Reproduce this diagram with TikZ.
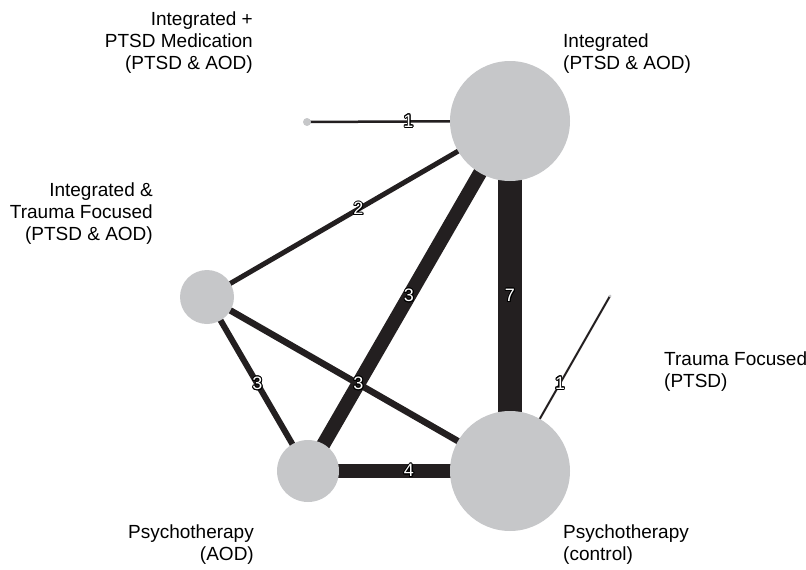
\documentclass[tikz,border=0pt]{standalone}
\usepackage{fontspec}
\setmainfont{Liberation Sans}
\usepackage{contour}
\contourlength{0.9pt}
\definecolor{edgecol}{HTML}{231F20}
\definecolor{nodegrey}{HTML}{C6C7C9}
\pgfdeclarelayer{background}
\pgfsetlayers{background,main}
\begin{document}
\begin{tikzpicture}[x=1pt,y=-1pt,
  tnode/.style={circle,fill=nodegrey,inner sep=0,minimum size=#1},
  link/.style={draw=edgecol,line width=#1},
  elabel/.style={font=\fontsize{18}{18}\selectfont,inner sep=0,text=white},
  tname/.style={font=\fontsize{19}{22}\selectfont,inner sep=0}]
\useasboundingbox (0,0) rectangle (806,570);
% treatment nodes
\node[tnode=8pt]   (med)  at (307,122) {};
\node[tnode=120pt] (intg) at (510,121) {};
\node[tnode=54pt]  (itf)  at (207,297) {};
\node[tnode=62pt]  (paod) at (308,471) {};
\node[tnode=120pt] (ctrl) at (510,471) {};
\node[tnode=3pt]   (tf)   at (610,296) {};
% connectors
\begin{pgfonlayer}{background}
\draw[link=2.5pt] (med.center) -- (intg.center);
\draw[link=5pt]   (itf.center) -- (intg.center);
\draw[link=14pt]  (paod.center) -- (intg.center);
\draw[link=24pt]  (intg.center) -- (ctrl.center);
\draw[link=2pt]   (ctrl.center) -- (tf.center);
\draw[link=6pt]   (itf.center) -- (paod.center);
\draw[link=6.5pt] (itf.center) -- (ctrl.center);
\draw[link=14pt]  (paod.center) -- (ctrl.center);
\end{pgfonlayer}
% edge labels
\path (med.center) -- (intg.center) node[elabel,midway] (l1) {\contour{black}{1}};
\path (itf.center) -- (intg.center) node[elabel,midway] (l2) {\contour{black}{2}};
\path (paod.center) -- (intg.center) node[elabel,midway] (l3) {\contour{black}{3}};
\path (intg.center) -- (ctrl.center) node[elabel,midway] (l4) {\contour{black}{7}};
\path (ctrl.center) -- (tf.center) node[elabel,midway] (l5) {\contour{black}{1}};
\path (itf.center) -- (paod.center) node[elabel,midway] (l6) {\contour{black}{3}};
\path (itf.center) -- (ctrl.center) node[elabel,midway] (l7) {\contour{black}{3}};
\path (paod.center) -- (ctrl.center) node[elabel,midway] (l8) {\contour{black}{4}};
% names
\node[tname,align=right,anchor=north east] (nmed) at (253,11.5) {Integrated +\\PTSD Medication\\(PTSD \& AOD)};
\node[tname,align=left,anchor=north west] (nintg) at (563,33.5) {Integrated\\(PTSD \& AOD)};
\node[tname,align=right,anchor=north east] (nitf) at (153,182.5) {Integrated \&\\Trauma Focused\\(PTSD \& AOD)};
\node[tname,align=left,anchor=north west] (ntf) at (664,351.5) {Trauma Focused\\(PTSD)};
\node[tname,align=right,anchor=north east] (npaod) at (254,524.5) {Psychotherapy\\(AOD)};
\node[tname,align=left,anchor=north west] (nctrl) at (563,524.5) {Psychotherapy\\(control)};
\end{tikzpicture}
\end{document}
